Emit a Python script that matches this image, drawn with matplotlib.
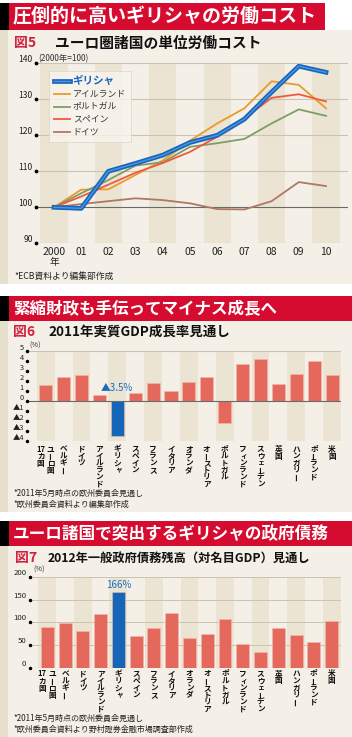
import numpy as np
import matplotlib
matplotlib.use("Agg")
import matplotlib.pyplot as plt
from matplotlib.patches import Rectangle
import matplotlib.patheffects as pe

plt.rcParams['font.family'] = ['Noto Sans CJK JP', 'DejaVu Sans']

# ---------------- data ----------------
years = [2000, 2001, 2002, 2003, 2004, 2005, 2006, 2007, 2008, 2009, 2010]
year_labels = ['2000', '01', '02', '03', '04', '05', '06', '07', '08', '09', '10']
greece = [100, 99.7, 110.0, 112.2, 114.5, 118.0, 120.0, 124.5, 132.0, 139.2, 137.5]
ireland = [100, 104.9, 105.0, 109.0, 113.0, 118.5, 123.3, 127.5, 135.0, 134.0, 127.5]
portugal = [100, 103.9, 107.6, 111.6, 112.5, 116.8, 117.8, 119.0, 123.3, 127.2, 125.4]
spain = [100, 103.0, 106.3, 109.6, 112.3, 115.4, 119.6, 124.7, 130.4, 131.4, 129.4]
germany = [100, 100.9, 101.7, 102.5, 102.0, 101.1, 99.5, 99.4, 101.7, 107.0, 105.9]
series_names = ['ギリシャ', 'アイルランド', 'ポルトガル', 'スペイン', 'ドイツ']

countries = ['ユーロ圏17カ国', 'ベルギー', 'ドイツ', 'アイルランド', 'ギリシャ', 'スペイン',
             'フランス', 'イタリア', 'オランダ', 'オーストリア', 'ポルトガル', 'フィンランド',
             'スウェーデン', '英国', 'ハンガリー', 'ポーランド', '米国']
gdp_2011 = [1.6, 2.4, 2.6, 0.6, -3.5, 0.8, 1.8, 1.0, 1.9, 2.4, -2.2, 3.7, 4.2, 1.7, 2.7, 4.0, 2.6]
debt_2012 = [89, 98, 82, 118, 166, 71, 87, 120, 65, 75, 108, 52, 34, 88, 73, 56, 103]

gdp_ticks = [5, 4, 3, 2, 1, 0, -1, -2, -3, -4]
gdp_tick_labels = ['5', '4', '3', '2', '1', '0', '▲1', '▲2', '▲3', '▲4']
debt_ticks = [0, 50, 100, 150, 200]
lc_ticks = [90, 100, 110, 120, 130, 140]

# ---------------- styles ----------------
W, H = 352, 737
RED = '#d50c30'
CREAM = '#f4f0e7'
BAND = '#ebe4d2'
STRIP = '#e6dfcc'
GRID = '#cbc3b1'
BAR = '#e4685c'
GBLUE = '#1565b8'

fig = plt.figure(figsize=(W / 100, H / 100), dpi=100)
fig.patch.set_facecolor('white')

def box(x0, y0, x1, y1):
    return [x0 / W, 1 - y1 / H, (x1 - x0) / W, (y1 - y0) / H]

bg = fig.add_axes([0, 0, 1, 1], zorder=0)
bg.set_xlim(0, W)
bg.set_ylim(H, 0)
bg.axis('off')

def rect(x0, y0, x1, y1, c):
    bg.add_patch(Rectangle((x0, y0), x1 - x0, y1 - y0, color=c, lw=0))

# panels
panels = [
    (3, 30, 284, 325, '圧倒的に高いギリシャの労働コスト', 13.7),
    (296, 321, 512, 352, '緊縮財政も手伝ってマイナス成長へ', 11.9),
    (521, 546, 737, 352, 'ユーロ諸国で突出するギリシャの政府債務', 12.0),
]
for (hy0, hy1, py1, hx1, title, fs) in panels:
    rect(0, hy1, W, py1, CREAM)
    rect(0, hy1, 8, py1, STRIP)
    rect(0, hy0, 9, hy1, 'black')
    rect(9, hy0, hx1, hy1, RED)
    bg.text(13, (hy0 + hy1) / 2 + 0.5, title, color='white', fontsize=fs,
            fontweight='bold', va='center', ha='left')

# subtitles
subs = [(14, 55, 42.5, '図5', 'ユーロ圏諸国の単位労働コスト', 10.6),
        (13, 48, 331.5, '図6', '2011年実質GDP成長率見通し', 9.7),
        (15, 48, 558, '図7', '2012年一般政府債務残高（対名目GDP）見通し', 8.8)]
for (x0, x1, y, num, txt, fs) in subs:
    bg.text(x0, y, num, color='#d0213f', fontsize=10, fontweight='bold', va='center')
    bg.text(x1, y, txt, color='#111111', fontsize=fs, fontweight='bold', va='center')

# footnotes
bg.text(14, 276, '*ECB資料より編集部作成', fontsize=6.3, va='center', color='#222222')
bg.text(13, 493, '*2011年5月時点の欧州委員会見通し', fontsize=5.8, va='center', color='#222222')
bg.text(13, 504, '*欧州委員会資料より編集部作成', fontsize=5.8, va='center', color='#222222')
bg.text(13, 718, '*2011年5月時点の欧州委員会見通し', fontsize=5.8, va='center', color='#222222')
bg.text(13, 729, '*欧州委員会資料より野村證券金融市場調査部作成', fontsize=5.8, va='center', color='#222222')

PT = 0.72  # points per pixel

# ---------------- Figure 5: line chart ----------------
x0p, x1p = 36, 348
ppy = 27.2
ax1 = fig.add_axes(box(x0p, 63.3, x1p, 243.3), zorder=2)
ax1.set_facecolor('none')
ax1.set_xlim(2000 + (x0p - 54) / ppy, 2000 + (x1p - 54) / ppy)
ax1.set_ylim(90, 140)
for s in ax1.spines.values():
    s.set_visible(False)
ax1.set_xticks([]); ax1.set_yticks([])
for yr in years[::2]:
    ax1.axvspan(yr - 0.5, yr + 0.5, color=BAND, lw=0, zorder=0)
for v in lc_ticks:
    ax1.axhline(v, color='#6a6a6a' if v == 100 else GRID, lw=0.8, zorder=1)
    ax1.annotate(str(v), xy=(0, v), xycoords=ax1.get_yaxis_transform(),
                 xytext=(-2.2, 1.2), textcoords='offset points', ha='right', va='baseline',
                 fontsize=6.2, color='#222222')
ax1.plot(np.full(len(lc_ticks), ax1.get_xlim()[0]), lc_ticks, ls='none', marker='o',
         ms=1.7, color='black', clip_on=False, zorder=5)
ax1.annotate('(2000年=100)', xy=(0, 140), xycoords=ax1.get_yaxis_transform(),
             xytext=(1.5, 1.2), textcoords='offset points', ha='left', va='baseline',
             fontsize=6.0, color='#333333')
for yr, lab in zip(years, year_labels):
    ax1.annotate(lab, xy=(yr, 0), xycoords=ax1.get_xaxis_transform(),
                 xytext=(0, -8.8 * PT), textcoords='offset points', ha='center', va='center',
                 fontsize=7.5, color='#222222')
ax1.annotate('年', xy=(years[0], 0), xycoords=ax1.get_xaxis_transform(),
             xytext=(0, -18.4 * PT), textcoords='offset points', ha='center', va='center',
             fontsize=7.0, color='#222222')

colors = {'アイルランド': '#e89b2c', 'ポルトガル': '#7d9e66', 'スペイン': '#ef5a3c', 'ドイツ': '#ad7866'}
lines = []
ln_g, = ax1.plot(years, greece, color='#4f95dc', lw=1.0, zorder=6, label=series_names[0],
                 path_effects=[pe.Stroke(linewidth=3.4, foreground='#1766bd'), pe.Normal()])
for name, data in zip(series_names[1:], [ireland, portugal, spain, germany]):
    ln, = ax1.plot(years, data, color=colors[name], lw=1.3, zorder=4, label=name)
    lines.append(ln)
handles = [ln_g] + lines
leg = ax1.legend(handles=handles, loc='upper left', bbox_to_anchor=(0.042, 0.957),
                 fontsize=6.4, frameon=True, handlelength=1.75, handletextpad=0.35,
                 labelspacing=0.42, borderpad=0.55, borderaxespad=0, fancybox=False)
leg.get_frame().set_facecolor('#f8f5ee')
leg.get_frame().set_edgecolor('#dcd5c6')
leg.get_frame().set_linewidth(0.6)
leg.set_zorder(10)
texts = leg.get_texts()
texts[0].set_color('#1766bd')
texts[0].set_fontweight('bold')
texts[0].set_fontsize(7.6)
for t in texts[1:]:
    t.set_color('#333333')

# ---------------- vertical labels (one text per character) ----------------
SMALL = set('ャッィェュョァ')
LAB_FS = 5.5
LAB_STEP = 7.1

def vlabel(ax, i, name, top_off):
    if name == 'ユーロ圏17カ国':
        cols = [(5.0, ['ユ', 'ー', 'ロ', '圏']), (-5.0, ['17', 'カ', '国'])]
    else:
        cols = [(0.0, list(name))]
    for dx, toks in cols:
        for k, ch in enumerate(toks):
            ddx, ddy = dx, top_off + k * LAB_STEP
            rot = 90 if ch == 'ー' else 0
            fs = LAB_FS
            if ch in SMALL:
                ddx += 1.0
                ddy -= 0.6
                fs = LAB_FS - 0.6
            ax.annotate(ch, xy=(i, 0), xycoords=ax.get_xaxis_transform(),
                        xytext=(ddx * PT, -ddy * PT), textcoords='offset points',
                        ha='center', va='center', rotation=rot, fontsize=fs,
                        fontweight='bold', color='#111111')

def style_bar_axes(ax):
    ax.set_facecolor('none')
    for s in ax.spines.values():
        s.set_visible(False)
    ax.set_xticks([]); ax.set_yticks([])
    for i in range(0, len(countries), 2):
        ax.axvspan(i - 0.5, i + 0.5, color=BAND, lw=0, zorder=0)

idx = np.arange(len(countries))
bar_colors = [GBLUE if c == 'ギリシャ' else BAR for c in countries]
gi = countries.index('ギリシャ')

# ---------------- Figure 6: GDP growth ----------------
ax2 = fig.add_axes(box(27, 351, 341, 441), zorder=2)
style_bar_axes(ax2)
ax2.set_xlim((27 - 45.7) / 17.9, (341 - 45.7) / 17.9)
ax2.set_ylim(-4, 5)
ax2.axhline(5, color=GRID, lw=0.8, zorder=1)
ax2.axhline(0, color='#6a6a6a', lw=0.8, zorder=3)
ax2.bar(idx, gdp_2011, width=0.73, color=bar_colors, zorder=2, edgecolor='#f2b9ae', linewidth=0.4)
for v, lab in zip(gdp_ticks, gdp_tick_labels):
    ax2.annotate(lab, xy=(0, v), xycoords=ax2.get_yaxis_transform(),
                 xytext=(-2.2, 2.6 * PT), textcoords='offset points', ha='right', va='center',
                 fontsize=5.3, color='#222222')
ax2.plot(np.full(len(gdp_ticks), ax2.get_xlim()[0]), gdp_ticks, ls='none', marker='o',
         ms=1.5, color='black', clip_on=False, zorder=5)
ax2.annotate('(%)', xy=(0, 5), xycoords=ax2.get_yaxis_transform(),
             xytext=(1.5, 4.0), textcoords='offset points', ha='left', va='center',
             fontsize=5.3, color='#333333')
ax2.annotate('▲%.1f%%' % abs(gdp_2011[gi]), xy=(gi, 0), xytext=(0, 13.3 * PT),
             textcoords='offset points', ha='center', va='center', fontsize=7, color='#1a6cc0')
for i, name in enumerate(countries):
    vlabel(ax2, i, name, top_off=8.0)

# ---------------- Figure 7: government debt ----------------
ax3 = fig.add_axes(box(29.5, 577, 341, 667.7), zorder=2)
style_bar_axes(ax3)
ax3.set_xlim((29.5 - 47.3) / 17.77, (341 - 47.3) / 17.77)
ax3.set_ylim(0, 200)
for v in [50, 100, 150, 200]:
    ax3.axhline(v, color=GRID, lw=0.7, zorder=1)
ax3.axhline(0, color=GRID, lw=0.8, zorder=1)
ax3.bar(idx, debt_2012, width=0.73, color=bar_colors, zorder=2, edgecolor='#f2b9ae', linewidth=0.4)
for v in debt_ticks:
    ax3.annotate(str(v), xy=(0, v), xycoords=ax3.get_yaxis_transform(),
                 xytext=(-2.2, 4.0 * PT), textcoords='offset points', ha='right', va='center',
                 fontsize=5.6, color='#222222')
ax3.plot(np.full(len(debt_ticks), ax3.get_xlim()[0]), debt_ticks, ls='none', marker='o',
         ms=1.5, color='black', clip_on=False, zorder=5)
ax3.annotate('(%)', xy=(0, 200), xycoords=ax3.get_yaxis_transform(),
             xytext=(2.5, 5.0), textcoords='offset points', ha='left', va='center',
             fontsize=5.3, color='#333333')
ax3.annotate('%d%%' % debt_2012[gi], xy=(gi, debt_2012[gi]), xytext=(0, 7.5 * PT),
             textcoords='offset points', ha='center', va='center', fontsize=7, color='#1a6cc0')
for i, name in enumerate(countries):
    vlabel(ax3, i, name, top_off=6.2)

fig.savefig('out.png', dpi=100)
